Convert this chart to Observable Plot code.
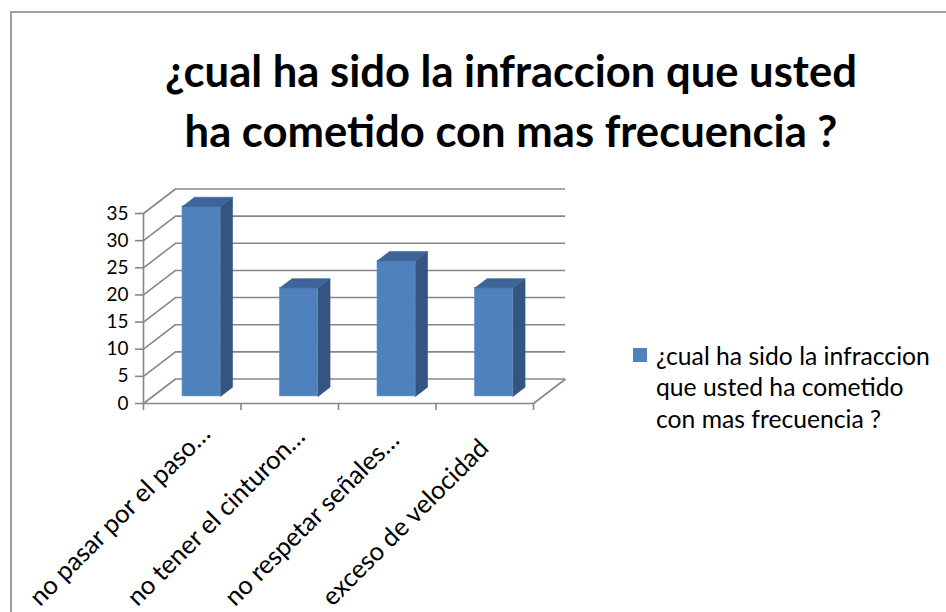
<!DOCTYPE html>
<html>
<head>
<meta charset="utf-8">
<script src="https://cdn.jsdelivr.net/npm/d3@7"></script>
<script src="https://cdn.jsdelivr.net/npm/@observablehq/plot@0.6"></script>
<style>
  html, body { margin: 0; padding: 0; background: #fff; }
  body { width: 946px; height: 612px; overflow: hidden; position: relative; font-family: Lato, "Open Sans", sans-serif; }
  #border { position: absolute; left: 10px; top: 11px; width: 1000px; height: 1000px; border: 2px solid #a0a0a0; box-sizing: border-box; }
  #title { position: absolute; left: 111px; width: 800px; text-align: center; font-weight: bold; color: #000; white-space: nowrap; }
  #chart { position: absolute; left: 0; top: 165px; }
  #legend { position: absolute; left: 633px; color: #000; white-space: nowrap; }
  #legend .sw { position: absolute; left: 0; width: 14px; height: 14px; background: #4F81BD; }
  #legend .txt { position: absolute; left: 23px; top: 0; }
</style>
</head>
<body>
<div id="border"></div>
<div id="title"></div>
<div id="chart"></div>
<div id="legend"></div>
<script>
// ---- data ----
const categories = ["no pasar por el paso…", "no tener el cinturon…", "no respetar señales…", "exceso de velocidad"];
const values = [35, 20, 25, 20];
const yTicks = [0, 5, 10, 15, 20, 25, 30, 35];
const titleLines = ["¿cual ha sido la infraccion que usted", "ha cometido con mas frecuencia ?"];
const legendLines = ["¿cual ha sido la infraccion", "que usted ha cometido", "con mas frecuencia ?"];

// ---- styling / layout ----
const FONT = "Lato";
const W = 946, H = 447;
const mL = 143, mR = 413, mT = 48, mB = 209;
const yMax = 35;
const pxX = (W - mL - mR) / categories.length;
const pxY = (H - mT - mB) / yMax;
const DX = 32 / pxX;      // depth offset in x units
const DY = 24.5 / pxY;    // depth offset in y units
const f0 = 0.29, f1 = 0.665, hw = 0.195;
const gridColor = "#878787";
const cFront = "#4F81BD", cSide = "#34557F", cTop = "#3D659A";

const ctx = document.createElement("canvas").getContext("2d");
function fit(text, weight, target) {
  ctx.font = `${weight} 100px ${FONT}`;
  return 100 * target / ctx.measureText(text).width;
}
const titleFs = fit(titleLines[0], "bold", 692);
const legendFs = fit(legendLines[0], "normal", 274);
const labelFs = fit(categories[0], "normal", 244);
const tickFs = fit("35", "normal", 22);

// title
const title = document.getElementById("title");
title.style.fontSize = titleFs + "px";
title.style.lineHeight = "60px";
title.style.top = (87 - (30 + 0.387 * titleFs)) + "px";
title.innerHTML = titleLines.map(t => `<div>${t}</div>`).join("");

// legend
const legend = document.getElementById("legend");
legend.style.top = "339.5px";
legend.style.fontSize = legendFs + "px";
legend.style.lineHeight = "31.5px";
legend.innerHTML = `<div class="sw" style="top:8.5px"></div><div class="txt">${legendLines.map(t => `<div>${t}</div>`).join("")}</div>`;

// bar polygons from data
const bars = values.map((v, i) => {
  const c = i + 0.5;
  return {i, v, xl0: c - hw + f0 * DX, xr0: c + hw + f0 * DX, xl1: c - hw + f1 * DX, xr1: c + hw + f1 * DX,
          b0: f0 * DY, b1: f1 * DY, t0: v + f0 * DY, t1: v + f1 * DY};
});
const sidePts = bars.flatMap(b => [
  {id: b.i, x: b.xr0, y: b.b0}, {id: b.i, x: b.xr1, y: b.b1}, {id: b.i, x: b.xr1, y: b.t1}, {id: b.i, x: b.xr0, y: b.t0}, {id: b.i, x: b.xr0, y: b.b0}
]);
const topPts = bars.flatMap(b => [
  {id: b.i, x: b.xl0, y: b.t0}, {id: b.i, x: b.xr0, y: b.t0}, {id: b.i, x: b.xr1, y: b.t1}, {id: b.i, x: b.xl1, y: b.t1}, {id: b.i, x: b.xl0, y: b.t0}
]);
const n = categories.length;

const plot = Plot.plot({
  width: W, height: H,
  marginLeft: mL, marginRight: mR, marginTop: mT, marginBottom: mB,
  x: {domain: [0, n], axis: null},
  y: {domain: [0, yMax], axis: null},
  style: {fontFamily: FONT, color: "#000", background: "transparent", overflow: "visible"},
  marks: [
    // back wall gridlines
    Plot.ruleY(yTicks, {y: d => d + DY, x1: DX, x2: n + DX, stroke: gridColor, strokeWidth: 1.6}),
    // left side wall diagonals
    Plot.link(yTicks, {x1: 0, y1: d => d, x2: DX, y2: d => d + DY, stroke: gridColor, strokeWidth: 1.6}),
    // floor right edge
    Plot.link([0], {x1: n, y1: 0, x2: n + DX, y2: DY, stroke: gridColor, strokeWidth: 1.6}),
    // front axis lines
    Plot.ruleX([0], {y1: 0, y2: yMax, stroke: gridColor, strokeWidth: 1.6}),
    Plot.ruleY([0], {x1: 0, x2: n, stroke: gridColor, strokeWidth: 1.6}),
    Plot.axisY(yTicks, {tickSize: 8, tickFormat: () => "", stroke: gridColor, strokeWidth: 1.6, label: null}),
    Plot.text(yTicks, {x: 0, y: d => d, text: d => String(d), textAnchor: "end", dx: -15, fontSize: tickFs, fill: "#000"}),
    Plot.axisX(d3.range(n + 1), {tickSize: 7, tickFormat: () => "", stroke: gridColor, strokeWidth: 1.6, label: null}),
    // bars
    Plot.rect(bars, {x1: "xl0", x2: "xr0", y1: "b0", y2: "t0", fill: cFront, stroke: "#5b8cc6", strokeWidth: 0.6}),
    Plot.line(sidePts, {x: "x", y: "y", z: "id", fill: cSide, stroke: cSide, strokeWidth: 0.6, curve: "linear"}),
    Plot.line(topPts, {x: "x", y: "y", z: "id", fill: cTop, stroke: cTop, strokeWidth: 0.6, curve: "linear"}),
    // category labels
    Plot.text(categories, {x: (d, i) => i + 0.5, y: 0, text: d => d, rotate: -45, textAnchor: "start", dx: -158, dy: 198, fontSize: labelFs, fill: "#000"})
  ]
});
document.getElementById("chart").appendChild(plot);
</script>
</body>
</html>
